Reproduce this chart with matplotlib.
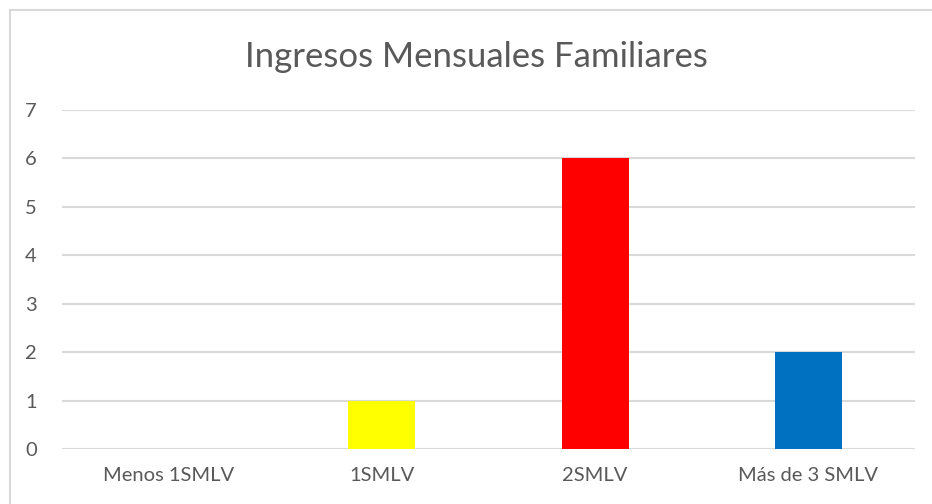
import matplotlib.pyplot as plt
from matplotlib.patches import Rectangle

categorias = ["Menos 1SMLV", "1SMLV", "2SMLV", "Más de 3 SMLV"]
valores = [0, 1, 6, 2]
colores = ["#4472C4", "#FFFF00", "#FF0000", "#0070C0"]
ticks_y = [0, 1, 2, 3, 4, 5, 6, 7]

plt.rcParams['font.family'] = ['Lato', 'DejaVu Sans']
texto = "#595959"
rejilla = "#D9D9D9"

fig = plt.figure(figsize=(9.32, 5.04), dpi=100)
ax = fig.add_axes([62 / 932, 1 - 449 / 504, (915 - 62) / 932, (449 - 110) / 504])

# marco exterior del grafico (recortado a la derecha y abajo)
fig.patches.append(Rectangle((10 / 932, -0.1), 1.2, 1 - 10 / 504 + 0.1,
                             transform=fig.transFigure, fill=False,
                             edgecolor=rejilla, linewidth=1.5))

x = range(len(categorias))
ax.bar(x, valores, width=0.314, color=colores, zorder=3)

ax.set_xlim(-0.5, len(categorias) - 0.5)
ax.set_ylim(0, 7)
ax.set_yticks(ticks_y)
ax.set_xticks(list(x))
ax.set_xticklabels(categorias)
ax.yaxis.grid(True, color=rejilla, linewidth=1.5, zorder=0)
ax.set_axisbelow(True)
for s in ax.spines.values():
    s.set_visible(False)
ax.tick_params(axis='both', length=0, colors=texto, labelsize=14.5)
ax.tick_params(axis='y', pad=18)
ax.tick_params(axis='x', pad=13)

fig.text(476 / 932, 1 - 57 / 504, "Ingresos Mensuales Familiares",
         ha='center', va='center', fontsize=25, color=texto)

fig.savefig("out.png", dpi=100)
